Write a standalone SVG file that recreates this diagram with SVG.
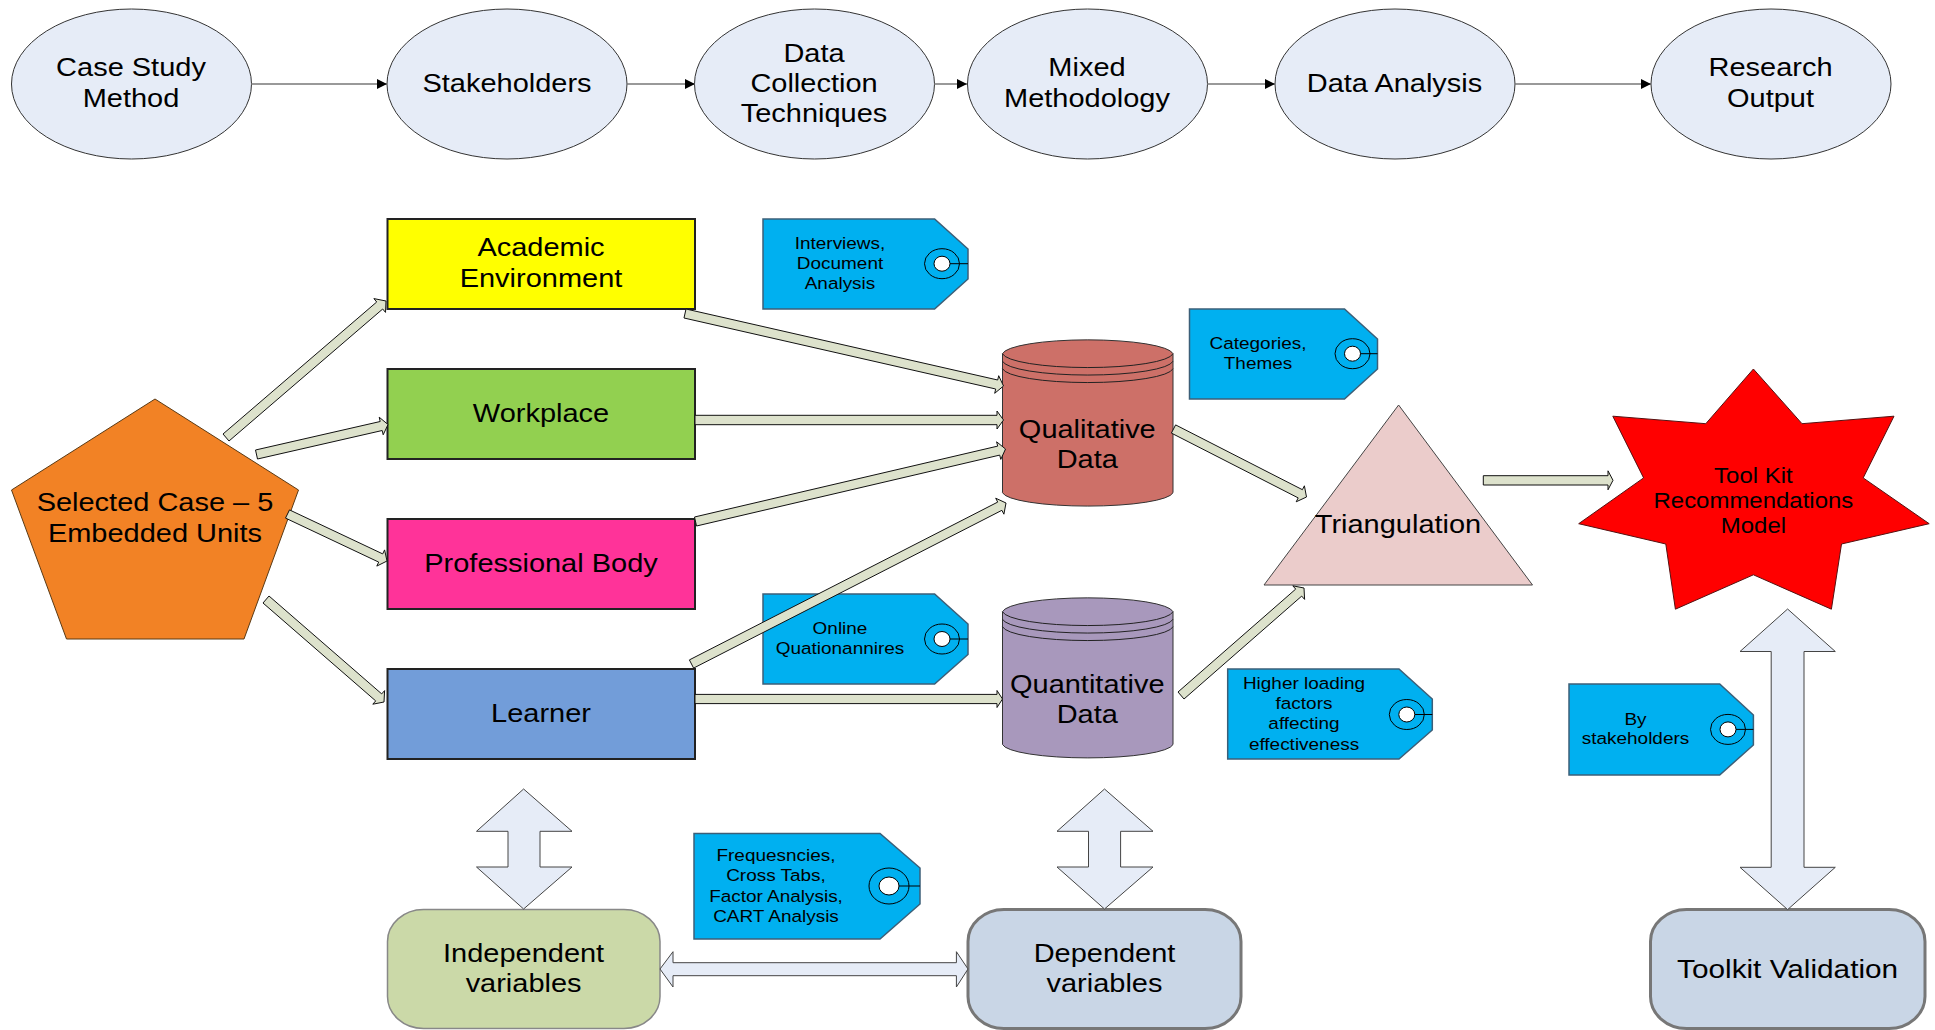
<svg xmlns="http://www.w3.org/2000/svg" width="1935" height="1030" viewBox="0 0 1935 1030">
<style>
text{font-family:"Liberation Sans",Arial,sans-serif;fill:#000;text-anchor:middle}
.m{font-size:26px}.r{font-size:22px}.s{font-size:17px}
.e{fill:#e6ecf7;stroke:#333;stroke-width:1}
.b{stroke:#222;stroke-width:2}
.tag{fill:#00b0f0;stroke:#3c5f78;stroke-width:1.5}
.ring{fill:none;stroke:#000;stroke-width:1}
.hole{fill:#fff;stroke:#000;stroke-width:1}
.thin{stroke:#777;stroke-width:1.5;fill:none;marker-end:url(#ah)}
.ba{fill:#dde2cc;stroke:#111;stroke-width:1}
.da{fill:#e6ecf7;stroke:#444;stroke-width:1}
.cyl{stroke:#333;stroke-width:1}
.rim{fill:none;stroke:#222;stroke-width:1}
.rr{stroke:#777;stroke-width:3}
</style>
<defs><marker id="ah" markerUnits="userSpaceOnUse" markerWidth="10" markerHeight="12" refX="10" refY="6" orient="auto"><path d="M0 1L10 6L0 11Z" fill="#000"/></marker></defs>

<g id="n-case"><ellipse class="e" cx="131.5" cy="84" rx="120" ry="75"/><text class="m" transform="translate(131 76) scale(1.115 1)">Case Study</text><text class="m" transform="translate(131 106.7) scale(1.115 1)">Method</text></g>
<g id="n-stake"><ellipse class="e" cx="507" cy="84" rx="120" ry="75"/><text class="m" transform="translate(507 91.7) scale(1.115 1)">Stakeholders</text></g>
<g id="n-collect"><ellipse class="e" cx="814.5" cy="84" rx="120" ry="75"/><text class="m" transform="translate(814 61.5) scale(1.115 1)">Data</text><text class="m" transform="translate(814 91.7) scale(1.115 1)">Collection</text><text class="m" transform="translate(814 122) scale(1.115 1)">Techniques</text></g>
<g id="n-mixed"><ellipse class="e" cx="1087.5" cy="84" rx="120" ry="75"/><text class="m" transform="translate(1087 76) scale(1.115 1)">Mixed</text><text class="m" transform="translate(1087 106.7) scale(1.115 1)">Methodology</text></g>
<g id="n-analysis"><ellipse class="e" cx="1395" cy="84" rx="120" ry="75"/><text class="m" transform="translate(1394.5 91.7) scale(1.115 1)">Data Analysis</text></g>
<g id="n-output"><ellipse class="e" cx="1771" cy="84" rx="120" ry="75"/><text class="m" transform="translate(1770.5 76) scale(1.115 1)">Research</text><text class="m" transform="translate(1770.5 106.7) scale(1.115 1)">Output</text></g>

<g id="n-selected"><polygon points="155,399 298.5,490 244,639 66.5,639 11.5,490" fill="#f28225" stroke="#5a3a15" stroke-width="1"/><text class="m" transform="translate(155 511) scale(1.115 1)">Selected Case – 5</text><text class="m" transform="translate(155 541.7) scale(1.115 1)">Embedded Units</text></g>

<g id="n-academic"><rect class="b" x="387.5" y="219" width="307.5" height="90" fill="#ffff00"/><text class="m" transform="translate(541 256) scale(1.115 1)">Academic</text><text class="m" transform="translate(541 286.7) scale(1.115 1)">Environment</text></g>
<g id="n-workplace"><rect class="b" x="387.5" y="369" width="307.5" height="90" fill="#92d050"/><text class="m" transform="translate(541 421.7) scale(1.115 1)">Workplace</text></g>
<g id="n-professional"><rect class="b" x="387.5" y="519" width="307.5" height="90" fill="#ff3399"/><text class="m" transform="translate(541 571.7) scale(1.115 1)">Professional Body</text></g>
<g id="n-learner"><rect class="b" x="387.5" y="669" width="307.5" height="90" fill="#729dd9"/><text class="m" transform="translate(541 722.3) scale(1.115 1)">Learner</text></g>

<g id="n-tag-interviews"><polygon class="tag" points="763,219 934.6,219 968,249 968,279 934.6,309 763,309"/><ellipse class="ring" cx="942" cy="263.7" rx="17.5" ry="15"/><ellipse class="hole" cx="942" cy="263.7" rx="8" ry="7.5"/><path class="ring" d="M950 263.7H968"/><text class="s" transform="translate(840 249) scale(1.115 1)">Interviews,</text><text class="s" transform="translate(840 269) scale(1.115 1)">Document</text><text class="s" transform="translate(840 289) scale(1.115 1)">Analysis</text></g>
<g id="n-tag-categories"><polygon class="tag" points="1189.5,309 1344.5,309 1377.5,339 1377.5,369 1344.5,399 1189.5,399"/><ellipse class="ring" cx="1352.5" cy="353.7" rx="17.5" ry="15"/><ellipse class="hole" cx="1352.5" cy="353.7" rx="8" ry="7.5"/><path class="ring" d="M1360.5 353.7H1377.5"/><text class="s" transform="translate(1258 349) scale(1.115 1)">Categories,</text><text class="s" transform="translate(1258 369) scale(1.115 1)">Themes</text></g>
<g id="n-tag-online"><polygon class="tag" points="763,594 934.6,594 968,624 968,654.5 934.6,684 763,684"/><ellipse class="ring" cx="942" cy="639" rx="17.5" ry="15"/><ellipse class="hole" cx="942" cy="639" rx="8" ry="7.5"/><path class="ring" d="M950 639H968"/><text class="s" transform="translate(840 634) scale(1.115 1)">Online</text><text class="s" transform="translate(840 654) scale(1.115 1)">Quationannires</text></g>
<g id="n-tag-freq"><polygon class="tag" points="694,833.5 880,833.5 920,868 920,904 880,939 694,939"/><ellipse class="ring" cx="889" cy="886" rx="20" ry="18"/><ellipse class="hole" cx="889" cy="886" rx="10" ry="9"/><path class="ring" d="M899 886H920"/><text class="s" transform="translate(776 861) scale(1.115 1)">Frequesncies,</text><text class="s" transform="translate(776 881) scale(1.115 1)">Cross Tabs,</text><text class="s" transform="translate(776 902) scale(1.115 1)">Factor Analysis,</text><text class="s" transform="translate(776 922) scale(1.115 1)">CART Analysis</text></g>
<g id="n-tag-higher"><polygon class="tag" points="1227.7,669 1399,669 1432.3,699 1432.3,730 1399,759 1227.7,759"/><ellipse class="ring" cx="1406.8" cy="714.5" rx="17.5" ry="15"/><ellipse class="hole" cx="1406.8" cy="714.5" rx="8" ry="7.5"/><path class="ring" d="M1414.8 714.5H1432.3"/><text class="s" transform="translate(1304 689) scale(1.115 1)">Higher loading</text><text class="s" transform="translate(1304 709) scale(1.115 1)">factors</text><text class="s" transform="translate(1304 729.3) scale(1.115 1)">affecting</text><text class="s" transform="translate(1304 750) scale(1.115 1)">effectiveness</text></g>
<g id="n-tag-by"><polygon class="tag" points="1569,684 1719.7,684 1753.4,715 1753.4,745 1719.7,775 1569,775"/><ellipse class="ring" cx="1728" cy="729.4" rx="17.5" ry="15"/><ellipse class="hole" cx="1728" cy="729.4" rx="8" ry="7.5"/><path class="ring" d="M1736 729.4H1753.4"/><text class="s" transform="translate(1635.5 724.5) scale(1.115 1)">By</text><text class="s" transform="translate(1635.5 744.3) scale(1.115 1)">stakeholders</text></g>

<g id="n-qualitative"><path class="cyl" fill="#cd7068" d="M1002.5 353.7A85.5 15 0 0 1 1173 353.7V492.7A85.5 14.5 0 0 1 1002.5 492.7Z"/><path class="rim" d="M1002.5 353.7A85.5 15 0 0 0 1173 353.7M1002.5 361.2A85.5 15 0 0 0 1173 361.2M1002.5 368.7A85.5 15 0 0 0 1173 368.7"/><text class="m" transform="translate(1087.3 437.7) scale(1.115 1)">Qualitative</text><text class="m" transform="translate(1087.3 467.7) scale(1.115 1)">Data</text></g>
<g id="n-quantitative"><path class="cyl" fill="#a898bc" d="M1002.5 611.7A85.5 15 0 0 1 1173 611.7V744.5A85.5 14.5 0 0 1 1002.5 744.5Z"/><path class="rim" d="M1002.5 611.7A85.5 15 0 0 0 1173 611.7M1002.5 619.2A85.5 15 0 0 0 1173 619.2M1002.5 626.7A85.5 15 0 0 0 1173 626.7"/><text class="m" transform="translate(1087.3 693.3) scale(1.115 1)">Quantitative</text><text class="m" transform="translate(1087.3 723.3) scale(1.115 1)">Data</text></g>

<g id="n-triangulation"><polygon points="1398.6,405 1532.5,585 1264,585" fill="#ebcccb" stroke="#444" stroke-width="1"/><text class="m" transform="translate(1398 533) scale(1.115 1)">Triangulation</text></g>
<g id="n-toolkit"><polygon points="1753.4,369 1802,423.7 1894,416.2 1863.2,477.9 1929.2,523.7 1841.5,544 1831.4,609.2 1753.4,574.8 1675.4,609.2 1665.8,544 1578.7,523.7 1643.6,477.9 1612.8,416.2 1705.8,423.7" fill="#ff0000" stroke="#511" stroke-width="1"/><text class="r" transform="translate(1753.4 482.6) scale(1.09 1)">Tool Kit</text><text class="r" transform="translate(1753.4 507.7) scale(1.09 1)">Recommendations</text><text class="r" transform="translate(1753.4 532.8) scale(1.09 1)">Model</text></g>

<g id="n-independent"><rect x="387.5" y="909.5" width="272.5" height="119" rx="36" ry="32" fill="#cbd9a8" stroke="#888" stroke-width="1.5"/><text class="m" transform="translate(523.6 962.3) scale(1.115 1)">Independent</text><text class="m" transform="translate(523.6 992.3) scale(1.115 1)">variables</text></g>
<g id="n-dependent"><rect class="rr" x="968" y="909.5" width="273" height="119" rx="36" ry="32" fill="#c9d6e6"/><text class="m" transform="translate(1104.5 962.3) scale(1.115 1)">Dependent</text><text class="m" transform="translate(1104.5 992.3) scale(1.115 1)">variables</text></g>
<g id="n-validation"><rect class="rr" x="1650.5" y="909.5" width="274.5" height="119" rx="36" ry="32" fill="#c9d6e6"/><text class="m" transform="translate(1787.6 977.8) scale(1.145 1)">Toolkit Validation</text></g>

<g id="connectors">
<path class="thin" d="M251 84H387"/>
<path class="thin" d="M627 84H695"/>
<path class="thin" d="M934 84H967"/>
<path class="thin" d="M1207 84H1275"/>
<path class="thin" d="M1515 84H1651"/>
<polygon class="ba" points="223,434 376.7,302 373.9,298.6 386,301 385.5,312.4 382.7,309 229,441"/>
<polygon class="ba" points="255.5,450 380.2,421.5 379.2,417.2 388,424.5 383.2,434.8 382.2,430.5 257.5,459"/>
<polygon class="ba" points="289.5,509.9 382.7,553.9 384.6,549.9 387,561 376.8,566.1 378.7,562.1 285.5,518.1"/>
<polygon class="ba" points="269,596 381.7,693.9 384.6,690.6 384,702 372.8,704.2 375.7,700.9 263,603"/>
<polygon class="ba" points="686,309 997.7,380 998.7,375.7 1003.5,386 994.7,393.3 995.7,389 684,318"/>
<polygon class="ba" points="695,415.3 997,415.3 997,411 1003.5,420 997,429 997,424.7 695,424.7"/>
<polygon class="ba" points="694.5,517 997.7,446.1 996.6,441.8 1005.5,449 1000.8,459.4 999.7,455.1 696.5,526"/>
<polygon class="ba" points="689.4,659.9 997.7,502.1 995.7,498.2 1006,503 1003.9,514.2 1001.9,510.3 693.6,668.1"/>
<polygon class="ba" points="695,694.4 997,694.4 997,690.5 1002.5,699 997,707.5 997,703.6 695,703.6"/>
<polygon class="ba" points="1175.6,424.9 1302.4,489.7 1304.4,485.8 1306.5,497 1296.2,501.8 1298.2,497.9 1171.4,433.1"/>
<polygon class="ba" points="1178,692 1295.7,589.1 1292.8,585.8 1304,588 1304.6,599.4 1301.7,596.1 1184,699"/>
<polygon class="ba" points="1483.3,475.7 1608,475.7 1608,470.8 1613,480.3 1608,489.8 1608,485 1483.3,485"/>
<polygon class="da" points="523.6,789 572,831.3 540,831.3 540,867 572,867 523.6,909 476.5,867 508,867 508,831.3 476.5,831.3"/>
<polygon class="da" points="1104.5,789 1153,831.3 1120.6,831.3 1120.6,867 1153,867 1104.5,909 1057,867 1088.5,867 1088.5,831.3 1057,831.3"/>
<polygon class="da" points="660,969 673,951.7 673,962.7 956.4,962.7 956.4,951.7 968,969 956.4,987 956.4,975.7 673,975.7 673,987"/>
<polygon class="da" points="1787.6,609 1835.3,651.5 1804,651.5 1804,867.3 1835.3,867.3 1787.6,909.6 1740,867.3 1771.2,867.3 1771.2,651.5 1740,651.5"/>
</g>
</svg>
